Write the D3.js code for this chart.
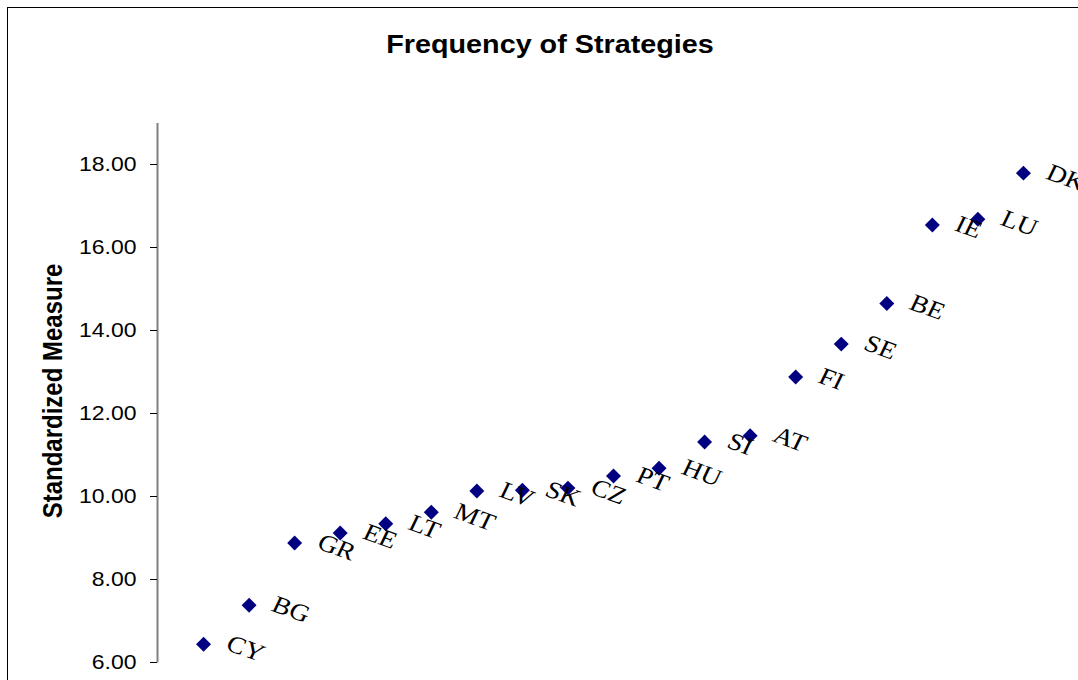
<!DOCTYPE html>
<html>
<head>
<meta charset="utf-8">
<script src="https://cdn.jsdelivr.net/npm/d3@7"></script>
<style>
  html, body { margin: 0; padding: 0; background: #fff; overflow: hidden; }
</style>
</head>
<body>
<div id="chart"></div>
<script>
// country codes, in plotted order
const countries = ["CY", "BG", "GR", "EE", "LT", "MT", "LV", "SK", "CZ", "PT",
  "HU", "SI", "AT", "FI", "SE", "BE", "IE", "LU", "DK"];

// standardized measure for each country
const values = [6.43, 7.37, 8.87, 9.11, 9.33, 9.61, 10.12, 10.14, 10.19, 10.48,
  10.67, 11.30, 11.45, 12.87, 13.66, 14.64, 16.53, 16.67, 17.78];

const yTicks = [6, 8, 10, 12, 14, 16, 18];

const width = 1078,
  height = 680;

// the original chart looks stretched sideways a bit, so text gets the same treatment
const stretch = 1.15;
const sans = "'Liberation Sans', Arial, sans-serif";
const serif = "'Liberation Serif', 'Times New Roman', serif";

const svg = d3.select("#chart")
  .append("svg")
  .attr("width", width)
  .attr("height", height);

// outer chart border, runs off the page on the right and bottom
svg.append("rect")
  .attr("x", 7.5)
  .attr("y", 7.5)
  .attr("width", 1200)
  .attr("height", 800)
  .attr("fill", "#fff")
  .attr("stroke", "#000");

const x = d3.scaleLinear()
  .domain([0, countries.length + 1])
  .range([158, 1069]);

const y = d3.scaleLinear()
  .domain([6, 19])
  .range([662, 122.5]);

// title
svg.append("text")
  .attr("transform", `translate(550,53) scale(${stretch},1)`)
  .attr("text-anchor", "middle")
  .attr("font-family", sans)
  .attr("font-weight", "bold")
  .attr("font-size", 25)
  .text("Frequency of Strategies");

// y axis
const yAxis = svg.append("g")
  .attr("transform", "translate(157,0)")
  .call(d3.axisLeft(y)
    .tickValues(yTicks)
    .tickFormat(d3.format(".2f"))
    .tickSize(7)
    .tickSizeOuter(0));

yAxis.select(".domain")
  .attr("stroke", "#808080")
  .attr("stroke-width", 2);

yAxis.selectAll(".tick line")
  .attr("stroke", "#000");

yAxis.selectAll(".tick text")
  .attr("x", -20.5 / stretch)
  .attr("transform", `scale(${stretch},1)`)
  .attr("font-family", sans)
  .attr("font-size", 20)
  .attr("fill", "#000");

// y axis title
svg.append("text")
  .attr("transform", `translate(62,391) scale(${stretch},1) rotate(-90)`)
  .attr("text-anchor", "middle")
  .attr("font-family", sans)
  .attr("font-weight", "bold")
  .attr("font-size", 24)
  .text("Standardized Measure");

const data = countries.map((c, i) => ({ name: c, index: i + 1, value: values[i] }));

// diamond markers
svg.append("g")
  .selectAll("path")
  .data(data)
  .join("path")
  .attr("d", d3.symbol().type(d3.symbolSquare).size(112))
  .attr("transform", d => `translate(${x(d.index)},${y(d.value)}) rotate(45)`)
  .attr("fill", "#000080");

// rotated country labels
svg.append("g")
  .selectAll("text")
  .data(data)
  .join("text")
  .attr("transform", d => `translate(${x(d.index) + 21},${y(d.value) + 5}) scale(${stretch},1) rotate(22.7)`)
  .attr("font-family", serif)
  .attr("font-size", 24)
  .attr("fill", "#000")
  .text(d => d.name);
</script>
</body>
</html>
